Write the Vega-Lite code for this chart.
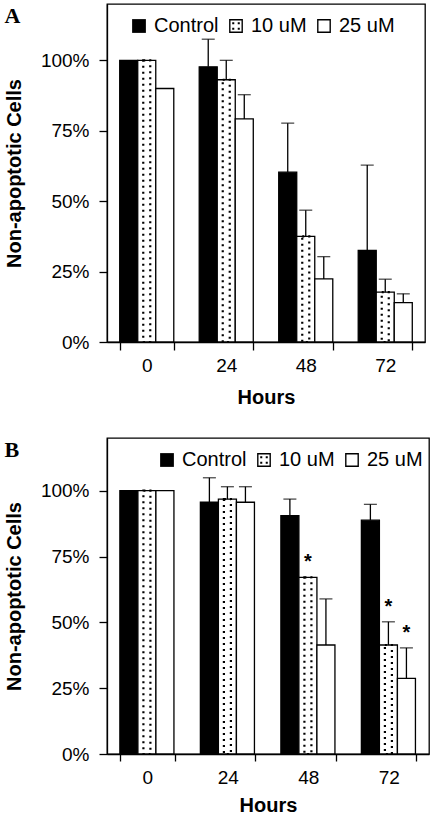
{
  "$schema": "https://vega.github.io/schema/vega-lite/v6.json",
  "padding": {"left": 3, "top": 3, "right": 0, "bottom": 0},
  "background": "white",
  "config": {
    "font": "Liberation Sans",
    "view": {"stroke": "black", "strokeWidth": 1.3},
    "axis": {"grid": false, "domainColor": "black", "domainWidth": 1.3, "tickColor": "black", "tickWidth": 1.3, "labelColor": "black", "labelFont": "Liberation Sans", "labelFontSize": 19, "titleFont": "Liberation Sans", "titleFontSize": 20, "titleFontWeight": "bold", "titleColor": "black"},
    "legend": {"title": null, "orient": "none", "direction": "horizontal", "symbolSize": 190, "symbolFillColor": "black", "symbolOpacity": 1, "labelFontSize": 20, "labelFont": "Liberation Sans", "labelColor": "black", "labelOffset": 5, "columnPadding": 7}
  },
  "data": {"values": [
    {"panel": "A", "hour": "0", "treatment": "Control", "value": 100},
    {"panel": "A", "hour": "0", "treatment": "10 uM", "value": 100},
    {"panel": "A", "hour": "0", "treatment": "25 uM", "value": 90},
    {"panel": "A", "hour": "24", "treatment": "Control", "value": 97.7, "upper": 107.5},
    {"panel": "A", "hour": "24", "treatment": "10 uM", "value": 93.1, "upper": 100},
    {"panel": "A", "hour": "24", "treatment": "25 uM", "value": 79.2, "upper": 87.8},
    {"panel": "A", "hour": "48", "treatment": "Control", "value": 60.3, "upper": 77.7},
    {"panel": "A", "hour": "48", "treatment": "10 uM", "value": 37.5, "upper": 46.8},
    {"panel": "A", "hour": "48", "treatment": "25 uM", "value": 22.4, "upper": 30.3},
    {"panel": "A", "hour": "72", "treatment": "Control", "value": 32.5, "upper": 62.8},
    {"panel": "A", "hour": "72", "treatment": "10 uM", "value": 17.7, "upper": 22.3},
    {"panel": "A", "hour": "72", "treatment": "25 uM", "value": 14, "upper": 17.1},
    {"panel": "B", "hour": "0", "treatment": "Control", "value": 100},
    {"panel": "B", "hour": "0", "treatment": "10 uM", "value": 100},
    {"panel": "B", "hour": "0", "treatment": "25 uM", "value": 100},
    {"panel": "B", "hour": "24", "treatment": "Control", "value": 95.6, "upper": 104.9},
    {"panel": "B", "hour": "24", "treatment": "10 uM", "value": 96.8, "upper": 101.5},
    {"panel": "B", "hour": "24", "treatment": "25 uM", "value": 95.6, "upper": 101.5},
    {"panel": "B", "hour": "48", "treatment": "Control", "value": 90.5, "upper": 96.8},
    {"panel": "B", "hour": "48", "treatment": "10 uM", "value": 67.1, "sig": "*"},
    {"panel": "B", "hour": "48", "treatment": "25 uM", "value": 41.4, "upper": 58.9},
    {"panel": "B", "hour": "72", "treatment": "Control", "value": 88.8, "upper": 94.8},
    {"panel": "B", "hour": "72", "treatment": "10 uM", "value": 41.4, "upper": 50.2, "sig": "*"},
    {"panel": "B", "hour": "72", "treatment": "25 uM", "value": 28.7, "upper": 40.3, "sig": "*"}
  ]},
  "transform": [{"calculate": "isValid(datum.upper) ? datum.upper : datum.value", "as": "top"}],
  "spacing": 29,
  "resolve": {"scale": {"shape": "independent"}, "legend": {"shape": "independent"}},
  "vconcat": [
    {
      "width": 318,
      "height": 338,
      "title": {"text": "A", "orient": "top", "anchor": "start", "frame": "bounds", "font": "Liberation Serif", "fontSize": 22, "fontWeight": "bold", "color": "black", "offset": -41, "baseline": "alphabetic"},
      "transform": [{"filter": "datum.panel === 'A'"}],
      "encoding": {
        "x": {"field": "hour", "type": "nominal", "scale": {"paddingInner": 0.32, "paddingOuter": 0.16}, "axis": {"title": "Hours", "labelAngle": 0, "tickBand": "extent", "tickSize": 8, "labelPadding": 6, "titlePadding": 12}},
        "xOffset": {"field": "treatment", "type": "nominal", "sort": ["Control", "10 uM", "25 uM"], "scale": {"paddingInner": 0, "paddingOuter": 0}}
      },
      "layer": [
        {
          "mark": {"type": "bar", "stroke": "black", "strokeWidth": 1.3},
          "encoding": {
            "y": {"field": "value", "type": "quantitative", "title": "Non-apoptotic Cells", "scale": {"domain": [0, 120]}, "axis": {"values": [0, 25, 50, 75, 100], "labelExpr": "datum.value + '%'", "tickSize": 8, "labelPadding": 10, "titlePadding": 16}},
            "fill": {"condition": {"test": "datum.treatment === 'Control'", "value": "black"}, "value": "white"}
          }
        },
        {
          "transform": [{"filter": "datum.treatment === '10 uM'"}],
          "mark": {"type": "bar", "fill": null, "fillOpacity": 0, "stroke": "black", "strokeWidth": 2.2, "strokeDash": [2, 4], "width": 7},
          "encoding": {"y": {"field": "value", "type": "quantitative", "title": "Non-apoptotic Cells"}}
        },
        {
          "transform": [{"filter": "isValid(datum.upper)"}],
          "mark": {"type": "rule", "color": "black", "strokeWidth": 1.3},
          "encoding": {"y": {"field": "value", "type": "quantitative", "title": "Non-apoptotic Cells"}, "y2": {"field": "upper"}}
        },
        {
          "transform": [{"filter": "isValid(datum.upper)"}],
          "mark": {"type": "tick", "color": "black", "size": 13, "thickness": 1.3},
          "encoding": {"y": {"field": "upper", "type": "quantitative", "title": "Non-apoptotic Cells"}}
        },
        {
          "mark": {"type": "point", "filled": true, "fill": "black", "size": 0},
          "encoding": {
            "y": {"field": "value", "type": "quantitative", "title": "Non-apoptotic Cells"},
            "shape": {"field": "treatment", "type": "nominal", "scale": {"domain": ["Control", "10 uM", "25 uM"], "range": ["square", "M-1,-1H1V1H-1Z M-0.8,-0.8V0.8H0.8V-0.8Z M-0.55,-0.55h0.3v0.3h-0.3Z M0.25,-0.55h0.3v0.3h-0.3Z M-0.55,0.25h0.3v0.3h-0.3Z M0.25,0.25h0.3v0.3h-0.3Z", "M-1,-1H1V1H-1Z M-0.8,-0.8V0.8H0.8V-0.8Z"]}, "legend": {"legendX": 22, "legendY": 12}}
          }
        }
      ]
    },
    {
      "width": 322,
      "height": 316,
      "title": {"text": "B", "orient": "top", "anchor": "start", "frame": "bounds", "font": "Liberation Serif", "fontSize": 22, "fontWeight": "bold", "color": "black", "offset": -41, "baseline": "alphabetic"},
      "transform": [{"filter": "datum.panel === 'B'"}],
      "encoding": {
        "x": {"field": "hour", "type": "nominal", "scale": {"paddingInner": 0.32, "paddingOuter": 0.16}, "axis": {"title": "Hours", "labelAngle": 0, "tickBand": "extent", "tickSize": 7, "labelPadding": 7, "titlePadding": 8}},
        "xOffset": {"field": "treatment", "type": "nominal", "sort": ["Control", "10 uM", "25 uM"], "scale": {"paddingInner": 0, "paddingOuter": 0}}
      },
      "layer": [
        {
          "mark": {"type": "bar", "stroke": "black", "strokeWidth": 1.3},
          "encoding": {
            "y": {"field": "value", "type": "quantitative", "title": "Non-apoptotic Cells", "scale": {"domain": [0, 120]}, "axis": {"values": [0, 25, 50, 75, 100], "labelExpr": "datum.value + '%'", "tickSize": 8, "labelPadding": 10, "titlePadding": 16}},
            "fill": {"condition": {"test": "datum.treatment === 'Control'", "value": "black"}, "value": "white"}
          }
        },
        {
          "transform": [{"filter": "datum.treatment === '10 uM'"}],
          "mark": {"type": "bar", "fill": null, "fillOpacity": 0, "stroke": "black", "strokeWidth": 2.2, "strokeDash": [2, 4], "width": 7},
          "encoding": {"y": {"field": "value", "type": "quantitative", "title": "Non-apoptotic Cells"}}
        },
        {
          "transform": [{"filter": "isValid(datum.upper)"}],
          "mark": {"type": "rule", "color": "black", "strokeWidth": 1.3},
          "encoding": {"y": {"field": "value", "type": "quantitative", "title": "Non-apoptotic Cells"}, "y2": {"field": "upper"}}
        },
        {
          "transform": [{"filter": "isValid(datum.upper)"}],
          "mark": {"type": "tick", "color": "black", "size": 13, "thickness": 1.3},
          "encoding": {"y": {"field": "upper", "type": "quantitative", "title": "Non-apoptotic Cells"}}
        },
        {
          "transform": [{"filter": "datum.sig === '*'"}],
          "mark": {"type": "text", "font": "Liberation Sans", "fontSize": 20, "fontWeight": "bold", "color": "black", "baseline": "alphabetic", "dy": -9},
          "encoding": {"y": {"field": "top", "type": "quantitative", "title": "Non-apoptotic Cells"}, "text": {"field": "sig"}}
        },
        {
          "mark": {"type": "point", "filled": true, "fill": "black", "size": 0},
          "encoding": {
            "y": {"field": "value", "type": "quantitative", "title": "Non-apoptotic Cells"},
            "shape": {"field": "treatment", "type": "nominal", "scale": {"domain": ["Control", "10 uM", "25 uM"], "range": ["square", "M-1,-1H1V1H-1Z M-0.8,-0.8V0.8H0.8V-0.8Z M-0.55,-0.55h0.3v0.3h-0.3Z M0.25,-0.55h0.3v0.3h-0.3Z M-0.55,0.25h0.3v0.3h-0.3Z M0.25,0.25h0.3v0.3h-0.3Z", "M-1,-1H1V1H-1Z M-0.8,-0.8V0.8H0.8V-0.8Z"]}, "legend": {"legendX": 50, "legendY": 12}}
          }
        }
      ]
    }
  ]
}
